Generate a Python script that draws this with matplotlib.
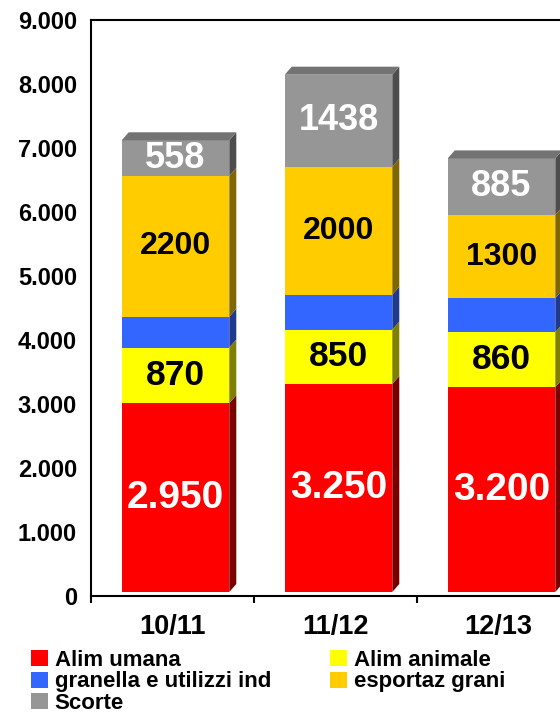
import matplotlib
matplotlib.use('Agg')
import matplotlib.pyplot as plt
import matplotlib.transforms as mtransforms
from matplotlib.patches import Polygon, Patch

# ---------------- data ----------------
categories = ['10/11', '11/12', '12/13']
alim_umana = [2950, 3250, 3200]
alim_animale = [870, 850, 860]
granella = [480, 545, 530]
esportaz = [2200, 2000, 1300]
scorte = [558, 1438, 885]

umana_labels = ['2.950', '3.250', '3.200']
animale_labels = ['870', '850', '860']
esportaz_labels = ['2200', '2000', '1300']
scorte_labels = ['558', '1438', '885']

yticks = [0, 1000, 2000, 3000, 4000, 5000, 6000, 7000, 8000, 9000]
ytick_labels = ['0', '1.000', '2.000', '3.000', '4.000', '5.000',
                '6.000', '7.000', '8.000', '9.000']

legend_names = ['Alim umana', 'Alim animale', 'granella e utilizzi ind',
                'esportaz grani', 'Scorte']

# ---------------- style ----------------
plt.rcParams['font.family'] = ['Liberation Sans', 'DejaVu Sans']
plt.rcParams['font.weight'] = 'bold'

series = [
    # values, front, side, top, labels, label color, label size
    (alim_umana, '#FF0000', '#7A0000', '#B00000', umana_labels, 'white', 28),
    (alim_animale, '#FFFF00', '#808000', '#B0B000', animale_labels, 'black', 25.5),
    (granella, '#3366FF', '#1F3A8C', '#2A4FC0', None, 'black', 22),
    (esportaz, '#FFCC00', '#806600', '#B08C00', esportaz_labels, 'black', 23),
    (scorte, '#969696', '#4D4D4D', '#737373', scorte_labels, 'white', 26),
]

W, H = 560, 713
fig = plt.figure(figsize=(W / 100, H / 100), dpi=100)
ax = fig.add_axes([91 / W, 117 / H, 489 / W, 576 / H])
ax.set_xlim(-0.5, 2.5)
ax.set_ylim(0, 9000)

off = mtransforms.ScaledTranslation(3 / 100, 4 / 100, fig.dpi_scale_trans)
tr = ax.transData + off

bbox = ax.get_window_extent()
px_x = bbox.width / 3.0
px_y = bbox.height / 9000.0
dxd = 7 / px_x
dyd = 8 / px_y

bar_w = 0.66
x = list(range(len(categories)))
bottoms = [0.0] * len(categories)
n_series = len(series)
for si, (vals, front, side, top, labels, lc, lsz) in enumerate(series):
    ax.bar(x, vals, width=bar_w, bottom=bottoms, color=front,
           linewidth=0, transform=tr, zorder=3)
    for i, xi in enumerate(x):
        b = bottoms[i]
        t = b + vals[i]
        xl = xi - bar_w / 2
        xr = xi + bar_w / 2
        ax.add_patch(Polygon([(xr, b), (xr + dxd, b + dyd), (xr + dxd, t + dyd), (xr, t)],
                             closed=True, facecolor=side, linewidth=0,
                             transform=tr, zorder=3))
        if si == n_series - 1:
            ax.add_patch(Polygon([(xl, t), (xr, t), (xr + dxd, t + dyd), (xl + dxd, t + dyd)],
                                 closed=True, facecolor=top, linewidth=0,
                                 transform=tr, zorder=3))
        if labels is not None:
            ax.text(xi, b + vals[i] / 2, labels[i], ha='center', va='center',
                    color=lc, fontsize=lsz, fontweight='bold',
                    transform=tr, zorder=5)
    bottoms = [bottoms[i] + vals[i] for i in range(len(x))]

# axes styling
for s in ['left', 'bottom', 'top', 'right']:
    ax.spines[s].set_linewidth(1.5)
    ax.spines[s].set_color('black')
ax.set_yticks(yticks)
ax.set_yticklabels(ytick_labels, fontsize=17, fontweight='bold')
ax.tick_params(axis='y', length=0, pad=10)
ax.set_xticks(x)
ax.set_xticklabels(categories, fontsize=19.5, fontweight='bold')
ax.tick_params(axis='x', which='major', length=0, pad=13)
ax.set_xticks([-0.5, 0.5, 1.5, 2.5], minor=True)
ax.tick_params(axis='x', which='minor', length=5, width=1.5, direction='out')

# legend
colors = [s[1] for s in series]
h = [Patch(facecolor=c, edgecolor='none') for c in colors]
order = [0, 2, 4, 1, 3]
fig.legend([h[i] for i in order], [legend_names[i] for i in order],
           loc='upper left', bbox_to_anchor=(31 / W, 1 - 650 / H),
           ncol=2, frameon=False, prop={'weight': 'bold', 'size': 16},
           handlelength=0.75, handleheight=0.75, handletextpad=0.32,
           labelspacing=0.02, columnspacing=2.65, borderpad=0, borderaxespad=0)

fig.savefig('out.png', dpi=100)
